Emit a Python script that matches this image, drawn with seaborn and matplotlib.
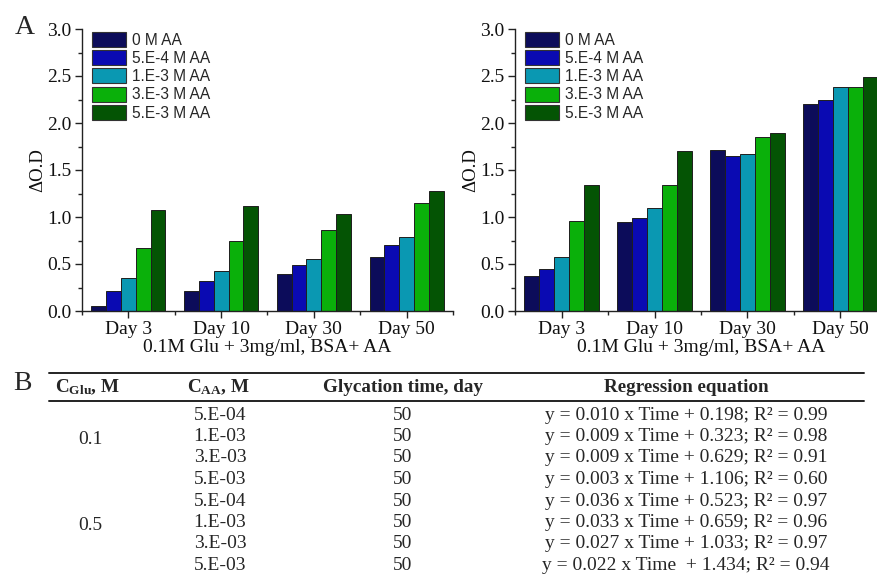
import numpy as np
import pandas as pd
import matplotlib
matplotlib.use("Agg")
import matplotlib.pyplot as plt
from matplotlib.patches import Patch
from matplotlib.lines import Line2D
from matplotlib.ticker import FixedLocator, MultipleLocator
import seaborn as sns

# ---------------- data ----------------
days = ["Day 3", "Day 10", "Day 30", "Day 50"]
aa_levels = ["0 M AA", "5.E-4 M AA", "1.E-3 M AA", "3.E-3 M AA", "5.E-3 M AA"]

left_aa0 = [0.053, 0.21, 0.395, 0.576]
left_aa1 = [0.213, 0.32, 0.494, 0.697]
left_aa2 = [0.348, 0.43, 0.551, 0.786]
left_aa3 = [0.668, 0.74, 0.86, 1.148]
left_aa4 = [1.073, 1.116, 1.027, 1.276]

right_aa0 = [0.373, 0.949, 1.71, 2.197]
right_aa1 = [0.448, 0.992, 1.649, 2.24]
right_aa2 = [0.576, 1.091, 1.674, 2.378]
right_aa3 = [0.96, 1.34, 1.848, 2.385]
right_aa4 = [1.34, 1.706, 1.898, 2.49]

y_ticks = [0.0, 0.5, 1.0, 1.5, 2.0, 2.5, 3.0]
x_label = "0.1M Glu + 3mg/ml, BSA+ AA"
y_label = "\u0394O.D"

colors = ["#0c0c5a", "#0a0ab2", "#0a98b2", "#0ab00a", "#045404"]

# table data
tbl_headers = [r"$\mathbf{C_{Glu}}$, M", r"$\mathbf{C_{AA}}$, M", "Glycation time, day", "Regression equation"]
tbl_glu = ["0.1", "0.5"]
tbl_aa = ["5.E-04", "1.E-03", "3.E-03", "5.E-03", "5.E-04", "1.E-03", "3.E-03", "5.E-03"]
tbl_time = ["50", "50", "50", "50", "50", "50", "50", "50"]
tbl_eq = [
    "y = 0.010 x Time + 0.198; R\u00b2 = 0.99",
    "y = 0.009 x Time + 0.323; R\u00b2 = 0.98",
    "y = 0.009 x Time + 0.629; R\u00b2 = 0.91",
    "y = 0.003 x Time + 1.106; R\u00b2 = 0.60",
    "y = 0.036 x Time + 0.523; R\u00b2 = 0.97",
    "y = 0.033 x Time + 0.659; R\u00b2 = 0.96",
    "y = 0.027 x Time + 1.033; R\u00b2 = 0.97",
    "y = 0.022 x Time  + 1.434; R\u00b2 = 0.94",
]

# ---------------- style ----------------
sns.set_style("ticks")
plt.rcParams["font.family"] = ["Liberation Serif", "DejaVu Serif"]
plt.rcParams["mathtext.fontset"] = "custom"
plt.rcParams["mathtext.rm"] = "Liberation Serif"
plt.rcParams["mathtext.bf"] = "Liberation Serif:bold"
plt.rcParams["mathtext.it"] = "Liberation Serif:italic"

W, H = 878, 576
fig = plt.figure(figsize=(W / 100, H / 100), dpi=100)


def fx(px):
    return px / W


def fy(py):
    return 1 - py / H


def make_df(vals):
    rows = []
    for lvl, v in zip(aa_levels, vals):
        for d, val in zip(days, v):
            rows.append({"day": d, "aa": lvl, "od": val})
    return pd.DataFrame(rows)


df_left = make_df([left_aa0, left_aa1, left_aa2, left_aa3, left_aa4])
df_right = make_df([right_aa0, right_aa1, right_aa2, right_aa3, right_aa4])

ax_bottom_px, ax_top_px = 311, 29
axes_specs = [(82, 371, df_left), (515, 372, df_right)]

for left_px, width_px, df in axes_specs:
    ax = fig.add_axes([fx(left_px), fy(ax_bottom_px), width_px / W, (ax_bottom_px - ax_top_px) / H])
    sns.barplot(data=df, x="day", y="od", hue="aa", order=days, hue_order=aa_levels,
                palette=colors, saturation=1, edgecolor="#1e1e1e", linewidth=0.7,
                width=0.8, legend=False, ax=ax)
    ax.set_xlim(-0.5, 3.5)
    ax.set_ylim(0, 3.0)
    ax.set_yticks(y_ticks)
    ax.set_yticklabels([f"{t:.1f}" for t in y_ticks])
    ax.yaxis.set_minor_locator(MultipleLocator(0.25))
    ax.xaxis.set_minor_locator(FixedLocator([-0.5, 0.5, 1.5, 2.5, 3.5]))
    ax.tick_params(axis="both", which="major", direction="out", length=5, width=1,
                   labelsize=14, pad=2.5, color="#222222", labelcolor="#111111")
    ax.tick_params(axis="both", which="minor", direction="out", length=3, width=1, color="#222222")
    sns.despine(ax=ax)
    for s in ["left", "bottom"]:
        ax.spines[s].set_linewidth(1.0)
        ax.spines[s].set_color("#222222")
    ax.set_xlabel(x_label, fontsize=14, labelpad=0.5, color="#111111")
    ax.set_ylabel(y_label, fontsize=13.5, labelpad=1, color="#111111")
    ax.set_facecolor("white")
    ax.grid(False)
    handles = [Patch(facecolor=c, edgecolor="#333333", linewidth=0.8) for c in colors]
    ax.legend(handles, aa_levels, loc="upper left",
              bbox_to_anchor=(fx(left_px + 10), fy(32)), bbox_transform=fig.transFigure,
              frameon=False, borderpad=0, borderaxespad=0,
              prop={"family": "Liberation Sans", "size": 11.2},
              handlelength=2.2, handleheight=1.1, labelspacing=0.16, handletextpad=0.35)

# panel letters
fig.text(fx(25), fy(28), "A", fontsize=20, ha="center", va="center")
fig.text(fx(22), fy(383), "B", fontsize=20, ha="center", va="center")

# ---------------- table ----------------
x0, x1 = 49, 864
fig.add_artist(Line2D([fx(x0), fx(x1)], [fy(373), fy(373)], color="#222222", linewidth=1.4))
fig.add_artist(Line2D([fx(x0), fx(x1)], [fy(401), fy(401)], color="#222222", linewidth=1.4))

col_x = [88, 218, 403, 686]
for cx, h in zip(col_x, tbl_headers):
    fig.text(fx(cx), fy(387), h, fontsize=13.8, fontweight="bold", ha="center", va="center")

row_y = [415 + 21.5 * i for i in range(8)]
for i in range(8):
    fig.text(fx(220), fy(row_y[i]), tbl_aa[i], fontsize=14, ha="center", va="center")
    fig.text(fx(403), fy(row_y[i]), tbl_time[i], fontsize=14, ha="center", va="center")
    fig.text(fx(686), fy(row_y[i]), tbl_eq[i], fontsize=14, ha="center", va="center")

fig.text(fx(90), fy(439), tbl_glu[0], fontsize=14, ha="center", va="center")
fig.text(fx(90), fy(525), tbl_glu[1], fontsize=14, ha="center", va="center")

fig.savefig("out.png", dpi=100, facecolor="white")
